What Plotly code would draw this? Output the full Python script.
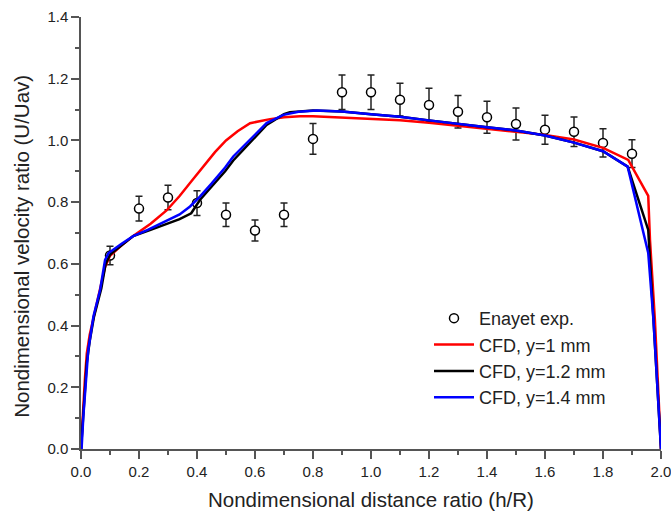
import plotly.graph_objects as go

# Experimental data (Enayet exp.)
exp_x = [0.1, 0.2, 0.3, 0.4, 0.5, 0.6, 0.7, 0.8, 0.9, 1.0, 1.1, 1.2, 1.3, 1.4, 1.5, 1.6, 1.7, 1.8, 1.9]
exp_y = [0.627, 0.779, 0.815, 0.797, 0.759, 0.708, 0.759, 1.005, 1.156, 1.156, 1.132, 1.115, 1.093,
         1.075, 1.053, 1.035, 1.028, 0.992, 0.957]
exp_err = [0.03, 0.04, 0.04, 0.04, 0.038, 0.034, 0.038, 0.05, 0.056, 0.056, 0.053, 0.054, 0.053,
           0.052, 0.052, 0.047, 0.048, 0.046, 0.045]

# CFD, y=1 mm
red_x = [0, 0.005, 0.01, 0.014, 0.02, 0.03, 0.04, 0.06, 0.083, 0.1, 0.14, 0.18, 0.24, 0.295, 0.34,
         0.38, 0.42, 0.462, 0.50, 0.54, 0.583, 0.62, 0.652, 0.7, 0.755, 0.8, 0.9, 1.0, 1.1, 1.2, 1.3,
         1.4, 1.5, 1.6, 1.7, 1.8, 1.887, 1.956, 1.962, 1.97, 1.979, 1.99, 2.0]
red_y = [0, 0.07, 0.17, 0.235, 0.31, 0.37, 0.41, 0.50, 0.59, 0.626, 0.66, 0.69, 0.73, 0.773, 0.82,
         0.867, 0.915, 0.962, 1.0, 1.03, 1.056, 1.063, 1.069, 1.075, 1.078, 1.078, 1.073, 1.069,
         1.065, 1.057, 1.047, 1.038, 1.029, 1.018, 1.003, 0.976, 0.937, 0.82, 0.678, 0.55, 0.418,
         0.2, 0]

# CFD, y=1.2 mm
black_x = [0, 0.005, 0.01, 0.02, 0.03, 0.045, 0.07, 0.085, 0.1, 0.14, 0.18, 0.24, 0.29, 0.34, 0.38,
           0.41, 0.45, 0.497, 0.525, 0.58, 0.64, 0.7, 0.72, 0.8, 0.9, 1.0, 1.1, 1.2, 1.3, 1.4, 1.5,
           1.6, 1.7, 1.8, 1.885, 1.956, 1.962, 1.975, 1.99, 2.0]
black_y = [0, 0.08, 0.15, 0.28, 0.35, 0.43, 0.52, 0.6, 0.63, 0.66, 0.69, 0.71, 0.727, 0.745, 0.764,
           0.807, 0.85, 0.9, 0.935, 0.99, 1.05, 1.085, 1.091, 1.097, 1.094, 1.085, 1.077, 1.065,
           1.053, 1.043, 1.032, 1.016, 0.993, 0.965, 0.915, 0.71, 0.613, 0.4, 0.15, 0]

# CFD, y=1.4 mm
blue_x = [0, 0.002, 0.008, 0.014, 0.025, 0.043, 0.066, 0.083, 0.095, 0.14, 0.18, 0.23, 0.29, 0.34,
          0.376, 0.41, 0.45, 0.497, 0.525, 0.58, 0.64, 0.698, 0.75, 0.813, 0.9, 1.0, 1.1, 1.2, 1.3,
          1.4, 1.5, 1.6, 1.7, 1.8, 1.885, 1.956, 1.974, 1.99, 2.0]
blue_y = [0, 0.0, 0.105, 0.19, 0.32, 0.43, 0.516, 0.613, 0.635, 0.665, 0.69, 0.71, 0.737, 0.76,
          0.786, 0.818, 0.86, 0.912, 0.948, 1.0, 1.056, 1.083, 1.093, 1.097, 1.094, 1.085, 1.077,
          1.065, 1.053, 1.043, 1.032, 1.016, 0.993, 0.965, 0.915, 0.635, 0.418, 0.15, 0]

FONT = "Liberation Sans, Arial, sans-serif"

fig = go.Figure()
fig.add_trace(go.Scatter(
    x=exp_x, y=exp_y, mode="markers", name="Enayet exp.",
    marker=dict(symbol="circle", size=9, color="white", line=dict(color="black", width=1.5)),
    error_y=dict(type="data", array=exp_err, visible=True, color="#222", thickness=1.5, width=3.5),
))
fig.add_trace(go.Scatter(x=red_x, y=red_y, mode="lines", name="CFD, y=1 mm",
                         line=dict(color="#ff0000", width=2.5)))
fig.add_trace(go.Scatter(x=black_x, y=black_y, mode="lines", name="CFD, y=1.2 mm",
                         line=dict(color="#000000", width=2.5)))
fig.add_trace(go.Scatter(x=blue_x, y=blue_y, mode="lines", name="CFD, y=1.4 mm",
                         line=dict(color="#0000ff", width=2.5)))

axis_common = dict(
    showline=True, linecolor="#555", linewidth=1.5, mirror=False,
    showgrid=False, zeroline=False, automargin=False,
    ticks="outside", ticklen=8, tickwidth=1.5, tickcolor="#555",
    tickfont=dict(family=FONT, size=15, color="#222"),
    tickformat=".1f", ticklabeloverflow="allow",
    minor=dict(ticks="outside", ticklen=4, tickwidth=1.5, tickcolor="#555", dtick=0.1),
)

fig.update_layout(
    width=671, height=514,
    margin=dict(l=81, r=10, t=17, b=65),
    plot_bgcolor="white", paper_bgcolor="white",
    xaxis=dict(range=[0, 2.0], dtick=0.2, tick0=0, **axis_common),
    yaxis=dict(range=[0, 1.4], dtick=0.2, tick0=0, **axis_common),
    legend=dict(x=0.60, y=0.345, xanchor="left", yanchor="top",
                bgcolor="rgba(0,0,0,0)", borderwidth=0,
                font=dict(family=FONT, size=18, color="#222"),
                itemwidth=40, tracegroupgap=0),
    showlegend=True,
    annotations=[
        dict(text="Nondimensional distance ratio (h/R)", xref="paper", yref="paper",
             x=0.5, y=-0.118, xanchor="center", yanchor="middle", showarrow=False,
             font=dict(family=FONT, size=20.5, color="#222")),
        dict(text="Nondimensional velocity ratio (U/Uav)", xref="paper", yref="paper",
             x=-0.102, y=0.47, xanchor="center", yanchor="middle", showarrow=False,
             textangle=-90, font=dict(family=FONT, size=20.5, color="#222")),
    ],
)

fig.write_html("out.html")
